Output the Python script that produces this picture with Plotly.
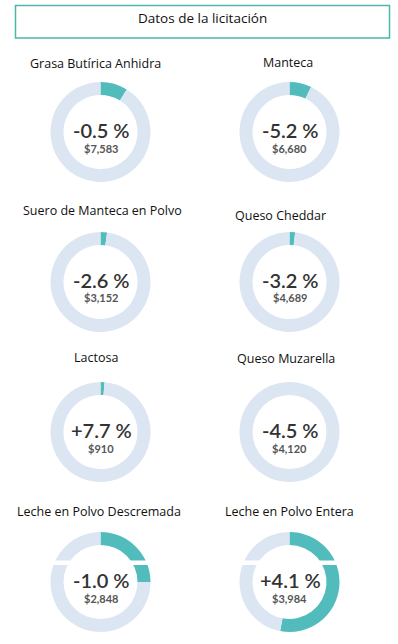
import plotly.graph_objects as go

W, H = 398, 644

# ---- data ----
products = ["Grasa Butírica Anhidra", "Manteca", "Suero de Manteca en Polvo", "Queso Cheddar",
            "Lactosa", "Queso Muzarella", "Leche en Polvo Descremada", "Leche en Polvo Entera"]
changes = [-0.5, -5.2, -2.6, -3.2, 7.7, -4.5, -1.0, 4.1]
prices = [7583, 6680, 3152, 4689, 910, 4120, 2848, 3984]
shares = [0.088, 0.071, 0.021, 0.018, 0.013, 0.0, 0.25, 0.53]
header = "Datos de la licitación"

# ---- layout (pixel positions) ----
col_cx = [100.5, 289.5]
row_cy = [132, 282, 432, 582]
radius = 50
title_x = [95, 288, 102, 280, 96, 286, 99, 289]
title_y = [64, 63, 210, 215, 357, 358, 511, 512]

TEAL = "#52BCBC"
RING = "#DCE6F2"

def px(x):
    return x / W

def py(y):
    return 1 - y / H

fig = go.Figure()
annotations = []
for i, name in enumerate(products):
    cx = col_cx[i % 2]
    cy = row_cy[i // 2]
    fig.add_trace(go.Pie(
        values=[shares[i], 1 - shares[i]],
        labels=["a", "b"],
        hole=0.74,
        sort=False,
        direction="clockwise",
        rotation=0,
        marker=dict(colors=[TEAL, RING], line=dict(width=0)),
        textinfo="none",
        hoverinfo="skip",
        showlegend=False,
        domain=dict(x=[px(cx - radius), px(cx + radius)],
                    y=[py(cy + radius), py(cy - radius)]),
    ))
    annotations.append(dict(
        x=px(title_x[i]), y=py(title_y[i]), xref="paper", yref="paper",
        text=name, showarrow=False, xanchor="center", yanchor="middle",
        font=dict(family="Open Sans", size=12.5, color="#111111")))
    annotations.append(dict(
        x=px(cx + 1), y=py(cy - 2), xref="paper", yref="paper",
        text=f"{changes[i]:+.1f} %", showarrow=False, xanchor="center", yanchor="middle",
        font=dict(family="Lato", size=20, color="#333333", weight=600)))
    annotations.append(dict(
        x=px(cx), y=py(cy + 16), xref="paper", yref="paper",
        text=f"<b>${prices[i]:,}</b>", showarrow=False, xanchor="center", yanchor="middle",
        font=dict(family="Lato", size=11, color="#555555")))

annotations.append(dict(
    x=px(202), y=py(18), xref="paper", yref="paper", text=header, showarrow=False,
    xanchor="center", yanchor="middle",
    font=dict(family="Open Sans", size=13.5, color="#111111")))

shapes = [
    dict(type="rect", xref="paper", yref="paper", x0=px(15.5), x1=px(389.5), y0=py(38), y1=py(5.5),
         line=dict(color="#4DB6AC", width=1.5), fillcolor="rgba(0,0,0,0)"),
    dict(type="rect", xref="paper", yref="paper", x0=0, x1=1, y0=py(565), y1=py(560.5),
         line=dict(width=0), fillcolor="white", layer="above"),
]

fig.update_layout(
    width=W, height=H, autosize=False,
    margin=dict(l=0, r=0, t=0, b=0),
    paper_bgcolor="white", plot_bgcolor="white",
    annotations=annotations, shapes=shapes,
)

fig.write_html("out.html", config={"displayModeBar": False},
               post_script="document.body.style.margin='0';")
